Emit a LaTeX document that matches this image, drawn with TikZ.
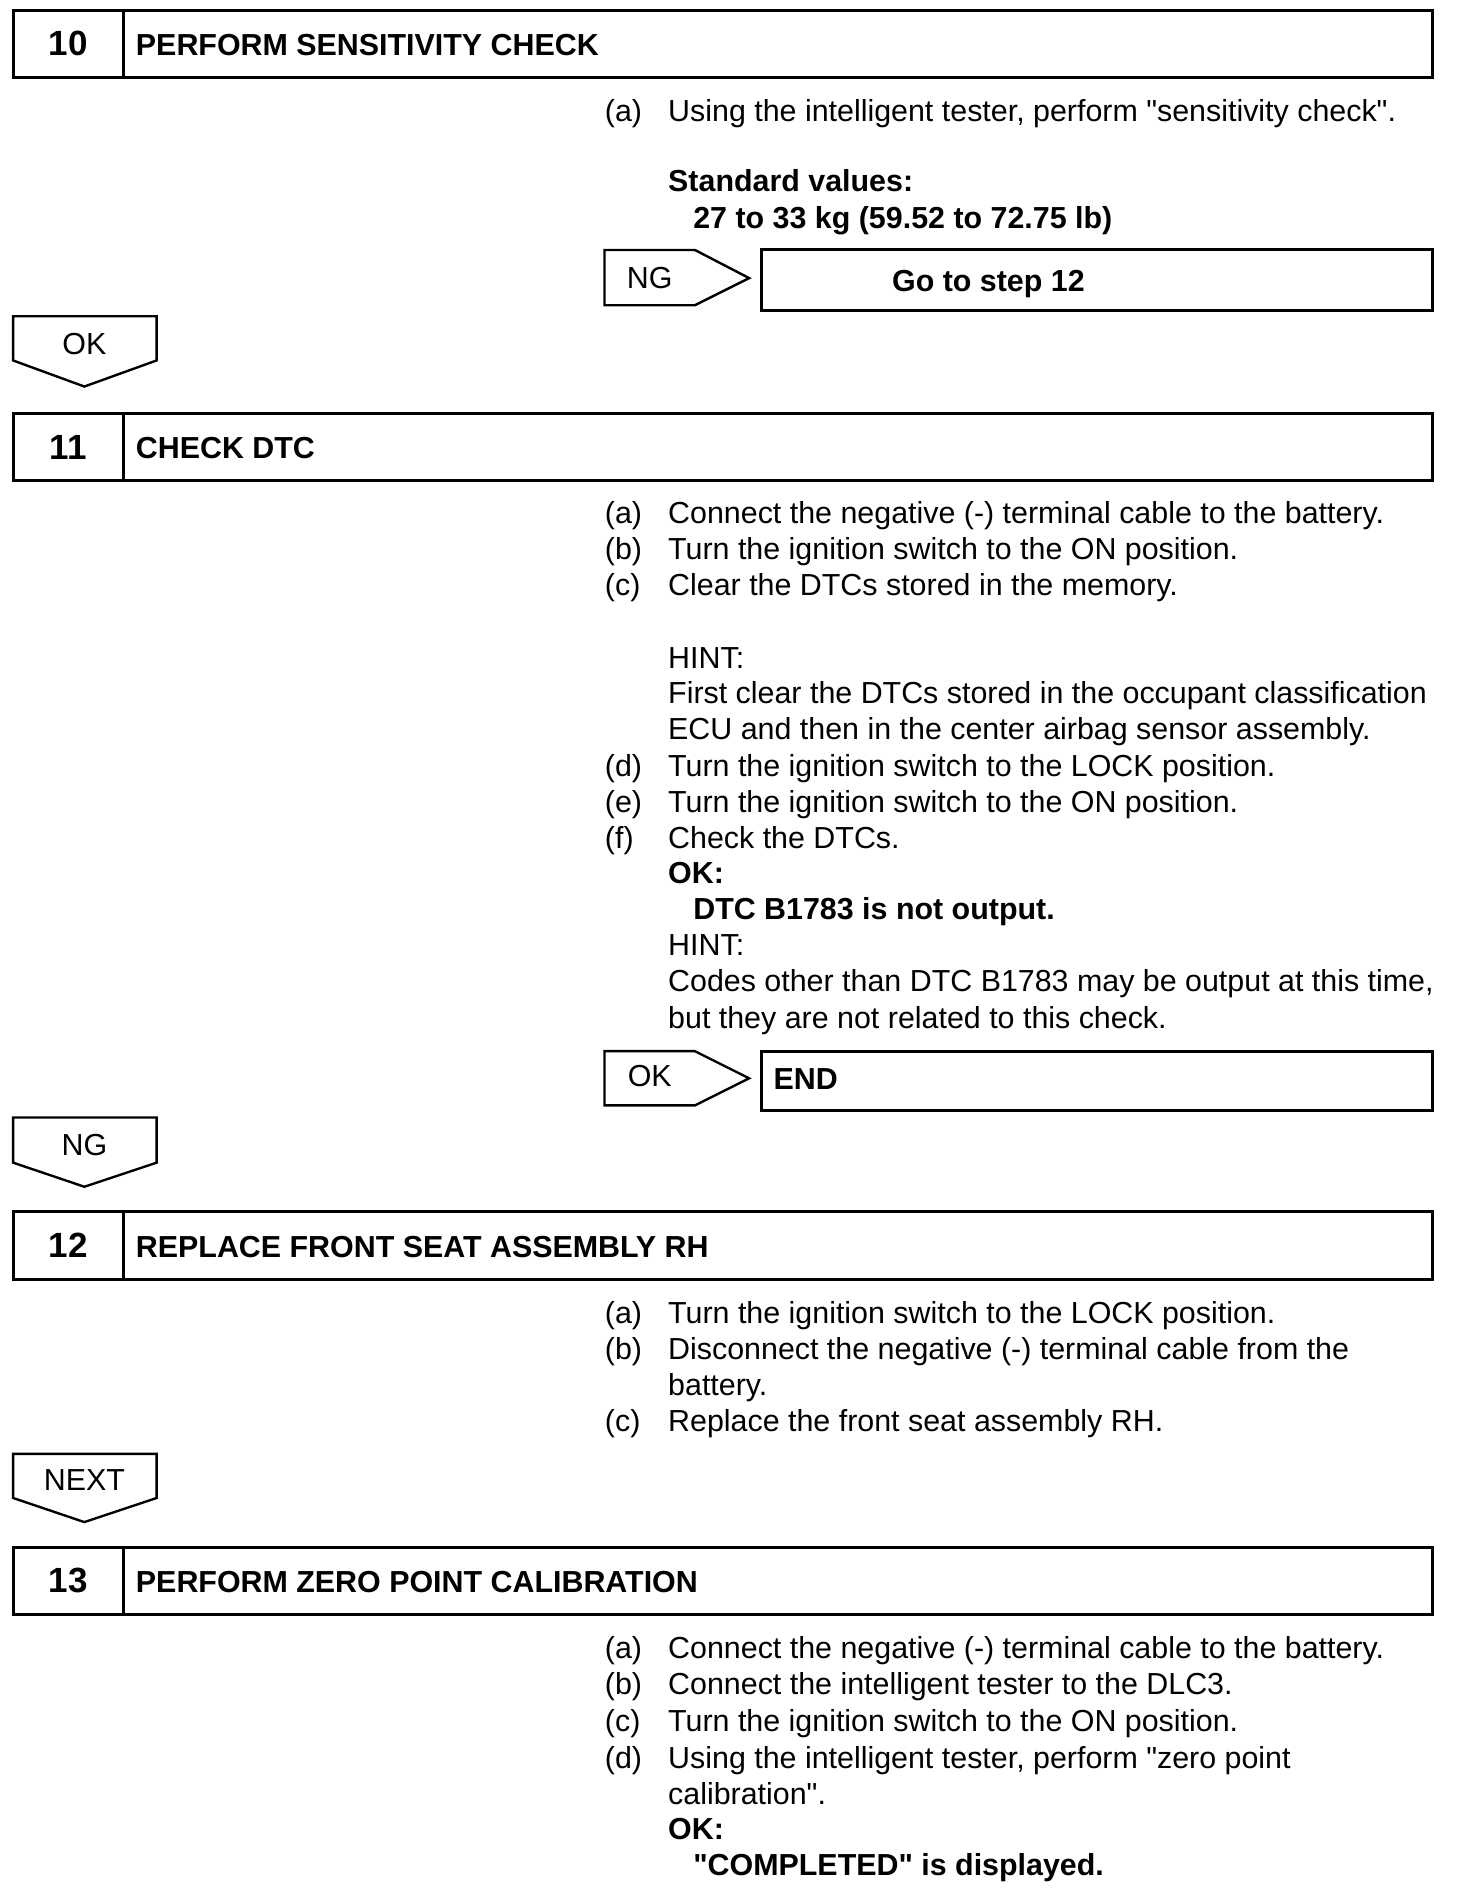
\documentclass[tikz,border=0pt]{standalone}
\usepackage{fontspec}
\setmainfont{Liberation Sans}
\usetikzlibrary{positioning}

\begin{document}
\begin{tikzpicture}[x=0.5021pt, y=-0.502pt,
  every node/.style={inner sep=0pt, font=\fontsize{15.2}{18}\selectfont},
  frame/.style={line width=1.5pt},
  tag/.style={line width=1.2pt, line join=miter},
  txt/.style={anchor=base west},
  bold/.style={anchor=base west, font=\fontsize{15.2}{18}\selectfont\bfseries},
  num/.style={font=\fontsize{17.5}{20}\selectfont\bfseries}]

  \useasboundingbox (0pt,0pt) rectangle (728pt,-947pt);

  % step header boxes
  \foreach \t/\n/\h in {10/10/PERFORM SENSITIVITY CHECK, 412/11/CHECK DTC,
      1207/12/REPLACE FRONT SEAT ASSEMBLY RH, 1541/13/PERFORM ZERO POINT CALIBRATION}{
    \draw[frame] (13,\t) rectangle (1426,\t+67);
    \draw[frame] (123,\t) -- (123,\t+67);
    \node[num] (n\n) at (68,\t+33.5) {\n};
    \node[bold] (h\n) at (135,\t+45) {\h};
  }

  % step 10
  \node[txt] (a10) at (602,121) {(a)};
  \node[txt] (a10t) at (665,121) {Using the intelligent tester, perform \textquotedbl sensitivity check\textquotedbl.};
  \node[bold] (sv) at (665,191) {Standard values:};
  \node[bold] (sv1) at (690,228) {27 to 33 kg (59.52 to 72.75 lb)};
  \node (ng10) at (647,277) {NG};
  \draw[tag] (602,249) -- (692,249) -- (746,277) -- (692,304) -- (602,304) -- cycle;
  \draw[frame] (758,249) rectangle (1426,309);
  \node[bold] (go12) at (888,290) {Go to step 12};
  \node (ok10) at (84,343) {OK};
  \draw[tag] (13,315) -- (156,315) -- (156,359) -- (84,385) -- (13,359) -- cycle;

  % step 11
  \foreach \y/\lab/\txt in {521/(a)/{Connect the negative (-) terminal cable to the battery.},
      557/(b)/{Turn the ignition switch to the ON position.},
      593/(c)/{Clear the DTCs stored in the memory.},
      666//{HINT:},
      701//{First clear the DTCs stored in the occupant classification},
      737//{ECU and then in the center airbag sensor assembly.},
      773/(d)/{Turn the ignition switch to the LOCK position.},
      809/(e)/{Turn the ignition switch to the ON position.},
      845/(f)/{Check the DTCs.},
      952//{HINT:},
      988//{Codes other than DTC B1783 may be output at this time,},
      1024//{but they are not related to this check.}}{
    \node[txt] (l\y) at (602,\y) {\lab};
    \node[txt] (t\y) at (665,\y) {\txt};
  }
  \node[bold] (ok11) at (665,880) {OK:};
  \node[bold] (ok11t) at (690,916) {DTC B1783 is not output.};
  \node (ok11a) at (647,1072) {OK};
  \draw[tag] (602,1047) -- (692,1047) -- (746,1074) -- (692,1101) -- (602,1101) -- cycle;
  \draw[frame] (758,1047) rectangle (1426,1106);
  \node[bold] (end) at (770,1085) {END};
  \node (ng11) at (84,1140) {NG};
  \draw[tag] (13,1113) -- (156,1113) -- (156,1158) -- (84,1182) -- (13,1158) -- cycle;

  % step 12
  \foreach \y/\lab/\txt in {1318/(a)/{Turn the ignition switch to the LOCK position.},
      1354/(b)/{Disconnect the negative (-) terminal cable from the},
      1390//{battery.},
      1426/(c)/{Replace the front seat assembly RH.}}{
    \node[txt] (l\y) at (602,\y) {\lab};
    \node[txt] (t\y) at (665,\y) {\txt};
  }
  \node (next12) at (84,1474) {NEXT};
  \draw[tag] (13,1448) -- (156,1448) -- (156,1492) -- (84,1516) -- (13,1492) -- cycle;

  % step 13
  \foreach \y/\lab/\txt in {1652/(a)/{Connect the negative (-) terminal cable to the battery.},
      1688/(b)/{Connect the intelligent tester to the DLC3.},
      1725/(c)/{Turn the ignition switch to the ON position.},
      1761/(d)/{Using the intelligent tester, perform \textquotedbl zero point},
      1797//{calibration\textquotedbl.}}{
    \node[txt] (l\y) at (602,\y) {\lab};
    \node[txt] (t\y) at (665,\y) {\txt};
  }
  \node[bold] (ok13) at (665,1832) {OK:};
  \node[bold] (ok13t) at (690,1868) {\textquotedbl COMPLETED\textquotedbl\ is displayed.};
\end{tikzpicture}
\end{document}
